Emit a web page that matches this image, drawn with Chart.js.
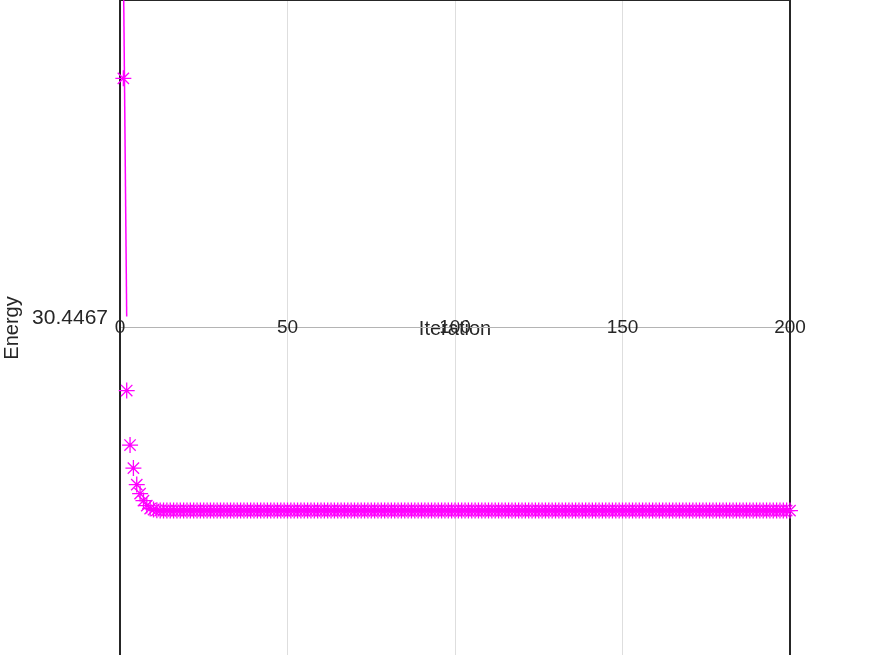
<!DOCTYPE html>
<html>
<head>
<meta charset="utf-8">
<script src="https://cdn.jsdelivr.net/npm/chart.js@4.4.0/dist/chart.umd.min.js"></script>
<style>
  html, body { margin: 0; padding: 0; background: #fff; overflow: hidden; }
  #wrap { width: 873px; height: 655px; overflow: hidden; }
  #myChart { display: block; margin-top: -9px; }
</style>
</head>
<body>
<div id="wrap"><canvas id="myChart" width="873" height="674"></canvas></div>
<script>
// energy per iteration
const energy = [
  30.6867, 30.3747, 30.3202, 30.2972, 30.2807, 30.2717, 30.2647, 30.2597, 30.2567, 30.2557,
  30.2550, 30.2548, 30.2547, 30.2547, 30.2547, 30.2547, 30.2547, 30.2547, 30.2547, 30.2547,
  30.2547, 30.2547, 30.2547, 30.2547, 30.2547, 30.2547, 30.2547, 30.2547, 30.2547, 30.2547,
  30.2547, 30.2547, 30.2547, 30.2547, 30.2547, 30.2547, 30.2547, 30.2547, 30.2547, 30.2547,
  30.2547, 30.2547, 30.2547, 30.2547, 30.2547, 30.2547, 30.2547, 30.2547, 30.2547, 30.2547,
  30.2547, 30.2547, 30.2547, 30.2547, 30.2547, 30.2547, 30.2547, 30.2547, 30.2547, 30.2547,
  30.2547, 30.2547, 30.2547, 30.2547, 30.2547, 30.2547, 30.2547, 30.2547, 30.2547, 30.2547,
  30.2547, 30.2547, 30.2547, 30.2547, 30.2547, 30.2547, 30.2547, 30.2547, 30.2547, 30.2547,
  30.2547, 30.2547, 30.2547, 30.2547, 30.2547, 30.2547, 30.2547, 30.2547, 30.2547, 30.2547,
  30.2547, 30.2547, 30.2547, 30.2547, 30.2547, 30.2547, 30.2547, 30.2547, 30.2547, 30.2547,
  30.2547, 30.2547, 30.2547, 30.2547, 30.2547, 30.2547, 30.2547, 30.2547, 30.2547, 30.2547,
  30.2547, 30.2547, 30.2547, 30.2547, 30.2547, 30.2547, 30.2547, 30.2547, 30.2547, 30.2547,
  30.2547, 30.2547, 30.2547, 30.2547, 30.2547, 30.2547, 30.2547, 30.2547, 30.2547, 30.2547,
  30.2547, 30.2547, 30.2547, 30.2547, 30.2547, 30.2547, 30.2547, 30.2547, 30.2547, 30.2547,
  30.2547, 30.2547, 30.2547, 30.2547, 30.2547, 30.2547, 30.2547, 30.2547, 30.2547, 30.2547,
  30.2547, 30.2547, 30.2547, 30.2547, 30.2547, 30.2547, 30.2547, 30.2547, 30.2547, 30.2547,
  30.2547, 30.2547, 30.2547, 30.2547, 30.2547, 30.2547, 30.2547, 30.2547, 30.2547, 30.2547,
  30.2547, 30.2547, 30.2547, 30.2547, 30.2547, 30.2547, 30.2547, 30.2547, 30.2547, 30.2547,
  30.2547, 30.2547, 30.2547, 30.2547, 30.2547, 30.2547, 30.2547, 30.2547, 30.2547, 30.2547,
  30.2547, 30.2547, 30.2547, 30.2547, 30.2547, 30.2547, 30.2547, 30.2547, 30.2547, 30.2547
];
// the thin steep line near the start
const lineIter = [1, 2];
const lineEnergy = [30.8047, 30.4487];

const xTicks = [0, 50, 100, 150, 200];
const yTicks = [30.4467];
const yMin = 30.1097;
const yMax = 30.7647;
const xAxisAt = 30.4377;

const FONT = 'Liberation Sans, Arial, Helvetica, sans-serif';
const TEXT = '#262626';
const MAGENTA = '#ff00ff';

const markerPts = energy.map((e, i) => ({ x: i + 1, y: e }));
const linePts = lineIter.map((it, i) => ({ x: it, y: lineEnergy[i] }));

// keep the plot box flush with the canvas edges
const noPad = (scale) => {
  scale.paddingTop = 0;
  scale.paddingBottom = 0;
};

new Chart(document.getElementById('myChart').getContext('2d'), {
  type: 'scatter',
  data: {
    datasets: [
      {
        label: 'Energy',
        data: markerPts,
        showLine: false,
        pointStyle: 'star',
        pointRadius: 8,
        pointHoverRadius: 8,
        pointBorderWidth: 1.3,
        borderColor: MAGENTA,
        backgroundColor: MAGENTA,
        clip: false
      },
      {
        label: 'Energy line',
        data: linePts,
        showLine: true,
        pointRadius: 0,
        borderColor: MAGENTA,
        borderWidth: 1.5
      }
    ]
  },
  options: {
    responsive: false,
    animation: false,
    layout: { padding: { left: 0, right: 83, top: 0, bottom: 0 } },
    plugins: { legend: { display: false }, tooltip: { enabled: false } },
    scales: {
      x: {
        type: 'linear',
        min: 0,
        max: 200,
        position: { y: xAxisAt },
        afterBuildTicks: (scale) => { scale.ticks = xTicks.map(v => ({ value: v })); },
        grid: { color: '#dedede', lineWidth: 1, drawTicks: false },
        border: { display: true, color: '#b4b4b4', width: 1 },
        ticks: { color: TEXT, font: { family: FONT, size: 19 }, padding: -11, maxRotation: 0 },
        title: { display: true, text: 'Iteration', color: TEXT, font: { family: FONT, size: 20 }, padding: -11 }
      },
      xTop: {
        type: 'linear',
        position: 'top',
        min: 0,
        max: 200,
        grid: { display: false, drawTicks: false },
        border: { display: true, color: TEXT, width: 2 },
        ticks: { display: false },
        afterFit: (scale) => { scale.height = 0; }
      },
      y: {
        type: 'linear',
        min: yMin,
        max: yMax,
        position: 'left',
        afterBuildTicks: (scale) => { scale.ticks = yTicks.map(v => ({ value: v })); },
        afterFit: (scale) => { scale.width = 120; noPad(scale); },
        grid: { display: false, drawTicks: false },
        border: { display: true, color: TEXT, width: 2 },
        ticks: { color: TEXT, font: { family: FONT, size: 21 }, padding: 12, callback: (v) => v.toFixed(4) },
        title: { display: true, text: 'Energy', color: TEXT, font: { family: FONT, size: 20 }, padding: 0 }
      },
      yRight: {
        type: 'linear',
        position: 'right',
        min: yMin,
        max: yMax,
        grid: { display: false, drawTicks: false },
        border: { display: true, color: TEXT, width: 2 },
        ticks: { display: false },
        afterFit: (scale) => { scale.width = 0; noPad(scale); }
      }
    }
  }
});
</script>
</body>
</html>
